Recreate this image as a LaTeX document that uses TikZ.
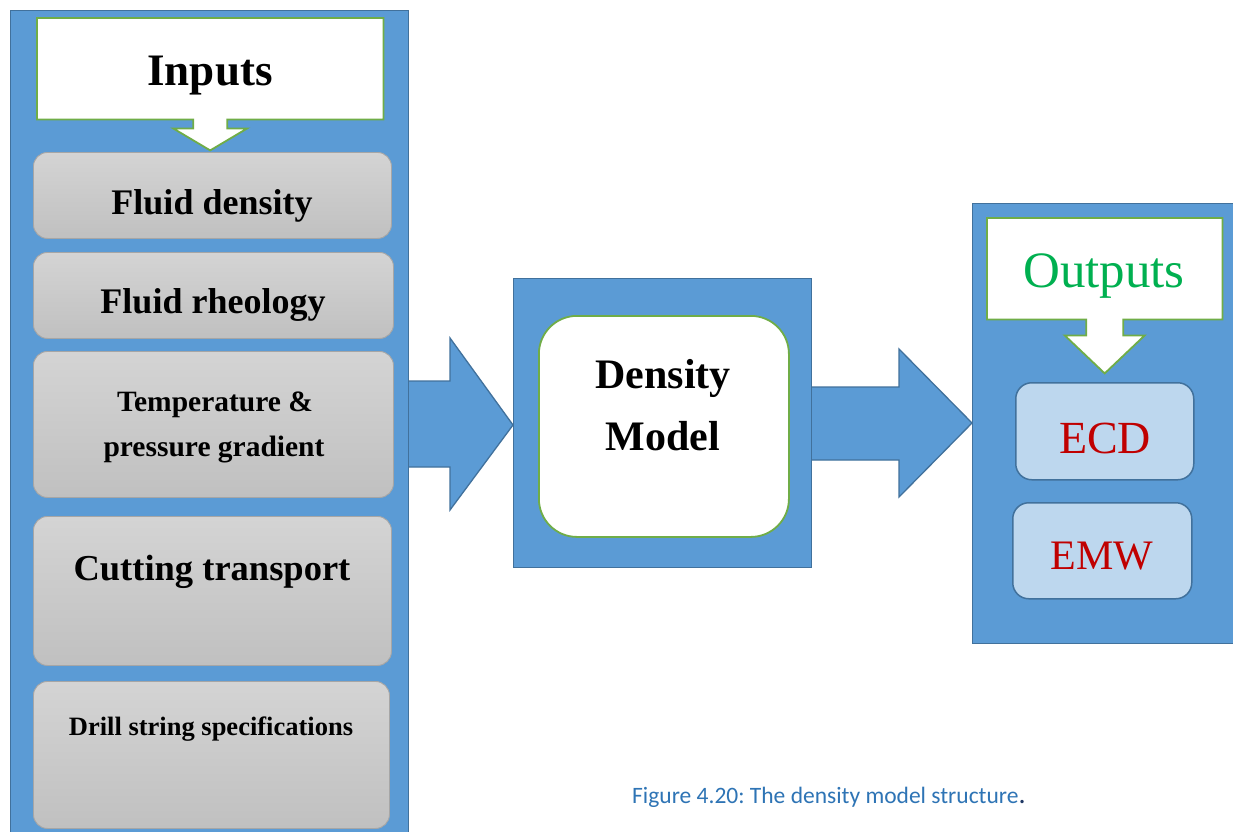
\documentclass[tikz,border=0pt]{standalone}
\usepackage{fontspec}
\setmainfont{Liberation Serif}
\newfontfamily\captionfont{Carlito}
\usetikzlibrary{calc,backgrounds}
\frenchspacing
\definecolor{panelfill}{HTML}{5B9BD5}
\definecolor{panelline}{HTML}{41719C}
\definecolor{titleline}{HTML}{70AD47}
\definecolor{greytop}{HTML}{D4D4D4}
\definecolor{greybot}{HTML}{C0C0C0}
\definecolor{greyline}{HTML}{A6A6A6}
\definecolor{outfill}{HTML}{BDD7EE}
\definecolor{outtext}{HTML}{C00000}
\definecolor{outgreen}{HTML}{00B050}
\definecolor{captionblue}{HTML}{2E74B5}
\definecolor{captiondark}{HTML}{1F3864}

\begin{document}
\begin{tikzpicture}[x=1pt,y=-1pt,
  panel/.style={draw=panelline,fill=panelfill,line width=1.3pt,inner sep=0pt,anchor=north west},
  blockarrow/.style={draw=panelline,fill=panelfill,line width=1.3pt,line join=miter},
  titleframe/.style={draw=titleline,fill=white,line width=1.8pt,line join=miter},
  frame/.style={inner sep=0pt,anchor=north west},
  inbox/.style={draw=greyline,line width=0.9pt,rounded corners=14pt,top color=greytop,bottom color=greybot,inner sep=0pt,anchor=north west},
  outbox/.style={draw=panelline,fill=outfill,line width=1.5pt,rounded corners=16pt,inner sep=0pt,anchor=north west},
  modelbox/.style={draw=titleline,fill=white,line width=1.8pt,rounded corners=38pt,inner sep=0pt,anchor=north west},
  lbl/.style={anchor=base,inner sep=0pt},
]
\useasboundingbox (0,0) rectangle (1233,831);

% ---- three panels ----
\node[panel,minimum width=398pt,minimum height=835pt] (inpanel) at (10,10) {};
\node[panel,minimum width=298pt,minimum height=289pt] (modelpanel) at (513,278) {};
\node[panel,minimum width=275pt,minimum height=440pt] (outpanel) at (972,203) {};

% ---- white page and block arrows between the panels ----
\begin{pgfonlayer}{background}
  \fill[white] (0,0) rectangle (1233,831);
  \draw[blockarrow] (408,381) -- (450,381) -- (450,338) -- (513,425)
        -- (450,510) -- (450,467) -- (408,467) -- cycle;
  \draw[blockarrow] (811,387) -- (899,387) -- (899,349) -- (972,423)
        -- (899,497) -- (899,460) -- (811,460) -- cycle;
\end{pgfonlayer}

% ---- inputs title with its down arrow ----
\node[frame,minimum width=346pt,minimum height=101pt] (inputs) at (37,18) {};
\draw[titleframe] (inputs.south west) -- (inputs.north west) -- (inputs.north east)
  -- (inputs.south east) -- ($(inputs.south)+(17,0)$) -- ($(inputs.south)+(17,9)$)
  -- ($(inputs.south)+(37,9)$) -- ($(inputs.south)+(0,31)$)
  -- ($(inputs.south)+(-37,9)$) -- ($(inputs.south)+(-17,9)$)
  -- ($(inputs.south)+(-17,0)$) -- cycle;
\node[lbl,font=\bfseries\fontsize{45}{50}\selectfont] (inputstxt) at (210,85) {Inputs};

% ---- input items ----
\node[inbox,minimum width=358pt,minimum height=86pt] (fd) at (33,152) {};
\node[inbox,minimum width=360pt,minimum height=86pt] (fr) at (33,252) {};
\node[inbox,minimum width=360pt,minimum height=146pt] (tp) at (33,351) {};
\node[inbox,minimum width=358pt,minimum height=149pt] (ct) at (33,516) {};
\node[inbox,minimum width=356pt,minimum height=147pt] (ds) at (33,681) {};

\node[lbl,font=\bfseries\fontsize{36}{40}\selectfont] (fdtxt) at (212,214) {Fluid density};
\node[lbl,font=\bfseries\fontsize{36}{40}\selectfont] (frtxt) at (213,313) {Fluid rheology};
\node[lbl,font=\bfseries\fontsize{29.5}{34}\selectfont] (tptxta) at (215,411) {Temperature \&};
\node[lbl,font=\bfseries\fontsize{29.5}{34}\selectfont] (tptxtb) at (214,456) {pressure gradient};
\node[lbl,font=\bfseries\fontsize{36.5}{40}\selectfont] (cttxt) at (212,580) {Cutting transport};
\node[lbl,font=\bfseries\fontsize{26.5}{30}\selectfont] (dstxt) at (211,735) {Drill string specifications};

% ---- density model ----
\node[modelbox,minimum width=250pt,minimum height=221pt] (model) at (538,315) {};
\node[lbl,font=\bfseries\fontsize{42}{46}\selectfont] (modeltxta) at (663,388) {Density};
\node[lbl,font=\bfseries\fontsize{42}{46}\selectfont] (modeltxtb) at (663,450) {Model};

% ---- outputs title with its down arrow ----
\node[frame,minimum width=235pt,minimum height=101pt] (outputs) at (987,218) {};
\draw[titleframe] (outputs.south west) -- (outputs.north west) -- (outputs.north east)
  -- (outputs.south east) -- ($(outputs.south)+(18.5,0)$) -- ($(outputs.south)+(18.5,16)$)
  -- ($(outputs.south)+(40,16)$) -- ($(outputs.south)+(0,54)$)
  -- ($(outputs.south)+(-40,16)$) -- ($(outputs.south)+(-18.5,16)$)
  -- ($(outputs.south)+(-18.5,0)$) -- cycle;
\node[lbl,font=\fontsize{51}{56}\selectfont,text=outgreen] (outputstxt) at (1104,287) {Outputs};

% ---- output items ----
\node[outbox,minimum width=178pt,minimum height=97pt] (ecd) at (1015,382) {};
\node[outbox,minimum width=179pt,minimum height=96pt] (emw) at (1012,502) {};
\node[lbl,font=\fontsize{46}{50}\selectfont,text=outtext] (ecdtxt) at (1105,453) {ECD};
\node[lbl,font=\fontsize{42}{46}\selectfont,text=outtext] (emwtxt) at (1102,569) {EMW};

% ---- caption ----
\node[anchor=base west,inner sep=0pt,font=\captionfont\fontsize{23.5}{27}\selectfont,text=captionblue]
  (caption) at (632,803) {Figure 4.20: The density model structure{\color{captiondark}\fontsize{28}{28}\selectfont.}};
\end{tikzpicture}
\end{document}
